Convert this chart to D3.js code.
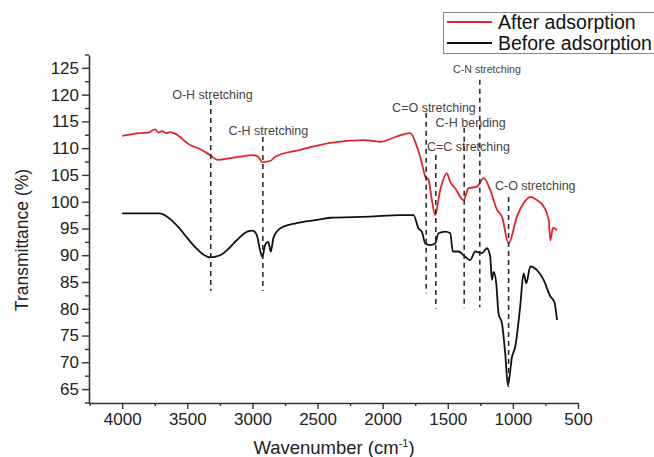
<!DOCTYPE html>
<html>
<head>
<meta charset="utf-8">
<script src="https://cdn.jsdelivr.net/npm/d3@7/dist/d3.min.js"></script>
<style>
  html, body { margin: 0; padding: 0; background: #fff; }
  svg { display: block; font-family: "Liberation Sans", Arial, sans-serif; }
</style>
</head>
<body>
<svg id="chart" width="654" height="457"></svg>
<script>
// ---- Data ----
const afterWavenumber = [4000, 3864, 3800, 3748, 3720, 3695, 3660, 3633, 3595, 3479, 3400, 3325, 3264, 3180, 3095, 3002, 2956, 2925, 2864, 2825, 2633, 2402, 2146, 2018, 1889, 1788, 1737, 1699, 1673, 1648, 1622, 1597, 1558, 1507, 1481, 1443, 1379, 1341, 1276, 1225, 1174, 1122, 1084, 1033, 969, 918, 866, 815, 764, 725, 712, 692, 661];
const afterTransmittance = [112.3, 112.8, 112.9, 113.5, 112.9, 113.2, 112.8, 113.0, 112.7, 110.6, 109.8, 108.7, 107.8, 108.1, 108.4, 108.7, 108.4, 107.4, 107.6, 108.4, 109.7, 111.0, 111.5, 111.2, 112.2, 112.8, 110.3, 107.2, 104.7, 104.1, 100.3, 97.5, 102.2, 105.3, 103.7, 102.5, 100.3, 102.5, 102.8, 104.4, 102.2, 98.5, 97.2, 92.2, 97.2, 99.7, 100.9, 100.3, 99.1, 96.6, 92.8, 95.1, 94.7];

const beforeWavenumber = [4000, 3710, 3660, 3620, 3560, 3500, 3440, 3380, 3326, 3249, 3180, 3121, 3040, 3000, 2967, 2942, 2924, 2903, 2878, 2859, 2839, 2788, 2660, 2506, 2404, 2100, 1866, 1763, 1725, 1699, 1673, 1635, 1597, 1571, 1520, 1481, 1461, 1418, 1379, 1328, 1289, 1238, 1199, 1174, 1161, 1148, 1128, 1110, 1084, 1059, 1038, 1007, 982, 944, 918, 897, 866, 815, 764, 712, 682, 661];
const beforeTransmittance = [97.8, 97.8, 97.3, 96.5, 95.0, 93.2, 91.5, 90.2, 89.6, 90.0, 91.3, 92.8, 94.4, 94.6, 93.8, 91.0, 89.7, 91.9, 92.5, 90.7, 93.2, 95.0, 96.0, 96.6, 97.0, 97.2, 97.5, 97.5, 95.0, 94.4, 92.2, 91.9, 92.2, 94.1, 94.4, 94.1, 90.7, 90.7, 90.0, 89.1, 90.7, 90.4, 91.3, 89.7, 85.4, 86.9, 84.8, 79.1, 77.3, 71.7, 65.7, 71.0, 72.9, 80.4, 86.6, 84.8, 87.9, 87.2, 85.4, 82.3, 81.3, 77.9];

const seriesNames = ["After adsorption", "Before adsorption"];
const seriesColors = ["#e0242b", "#111111"];

const xTickValues = [4000, 3500, 3000, 2500, 2000, 1500, 1000, 500];
const xMinorTicks = [4250, 3750, 3250, 2750, 2250, 1750, 1250, 750];
const yTickValues = [65, 70, 75, 80, 85, 90, 95, 100, 105, 110, 115, 120, 125];
const yMinorTicks = [62.5, 67.5, 72.5, 77.5, 82.5, 87.5, 92.5, 97.5, 102.5, 107.5, 112.5, 117.5, 122.5, 127.5];

// band annotations: label, band position (cm-1), dashed line top / bottom (% T), label centre (cm-1), label baseline (% T), font size
const bandLabels = ["O-H stretching", "C-H stretching", "C=O stretching", "C=C stretching", "C-H bending", "C-N stretching", "C-O stretching"];
const bandWavenumber = [3320, 2920, 1666, 1592, 1374, 1254, 1033];
const bandTop = [119.0, 112.1, 116.6, 108.7, 113.8, 122.8, 100.9];
const bandBottom = [83.3, 83.3, 82.9, 80.0, 80.1, 80.3, 65.4];
const labelCenter = [3307, 2878, 1606, 1341, 1324, 1199, 828];
const labelBaseline = [119.15, 112.5, 116.8, 109.5, 114.0, 124.0, 102.2];
const labelSize = [12.5, 12.5, 12.5, 12.5, 12.5, 10.6, 12.5];

// ---- Chart ----
const svg = d3.select("#chart");
const x = d3.scaleLinear().domain([4255, 500]).range([89, 578]);
const y = d3.scaleLinear().domain([62.4, 127.4]).range([403, 55]);
const axisColor = "#333";

// axes
const xAxis = svg.append("g").attr("transform", "translate(0,403)")
  .call(d3.axisBottom(x).tickValues(xTickValues).tickFormat(d3.format("d")).tickSize(6).tickSizeOuter(0).tickPadding(4));
const xMinor = svg.append("g").attr("transform", "translate(0,403)")
  .call(d3.axisBottom(x).tickValues(xMinorTicks).tickSize(3).tickSizeOuter(0).tickFormat(""));
const yAxis = svg.append("g").attr("transform", "translate(89,0)")
  .call(d3.axisLeft(y).tickValues(yTickValues).tickFormat(d3.format("d")).tickSize(7).tickSizeOuter(0).tickPadding(3));
const yMinor = svg.append("g").attr("transform", "translate(89,0)")
  .call(d3.axisLeft(y).tickValues(yMinorTicks).tickSize(4).tickSizeOuter(0).tickFormat(""));

[xAxis, xMinor, yAxis, yMinor].forEach(g => {
  g.selectAll("path.domain").attr("stroke", axisColor).attr("stroke-width", 1.6);
  g.selectAll(".tick line").attr("stroke", axisColor).attr("stroke-width", 1.4);
  g.selectAll(".tick text").attr("fill", "#222").style("font-size", "17px")
    .style("font-family", "'Liberation Sans', Arial, sans-serif");
});
xMinor.select("path.domain").remove();
yMinor.select("path.domain").remove();

// axis titles
svg.append("text")
  .attr("transform", "translate(28,240) rotate(-90)")
  .attr("text-anchor", "middle")
  .attr("fill", "#222")
  .style("font-size", "17.5px")
  .text("Transmittance (%)");

const xt = svg.append("text")
  .attr("x", 334).attr("y", 454)
  .attr("text-anchor", "middle")
  .attr("fill", "#222")
  .style("font-size", "18.5px");
xt.append("tspan").text("Wavenumber (cm");
xt.append("tspan").attr("dy", -7).style("font-size", "11px").text("-1");
xt.append("tspan").attr("dy", 7).text(")");

// series lines
const line = d3.line().x(d => x(d[0])).y(d => y(d[1])).curve(d3.curveMonotoneX);
const afterData = d3.zip(afterWavenumber, afterTransmittance);
const beforeData = d3.zip(beforeWavenumber, beforeTransmittance);

svg.append("path").datum(afterData)
  .attr("d", line).attr("fill", "none")
  .attr("stroke", seriesColors[0]).attr("stroke-width", 1.8).attr("stroke-linejoin", "round");
svg.append("path").datum(beforeData)
  .attr("d", line).attr("fill", "none")
  .attr("stroke", seriesColors[1]).attr("stroke-width", 1.8).attr("stroke-linejoin", "round");

// band annotations
bandLabels.forEach((lab, i) => {
  svg.append("line")
    .attr("x1", x(bandWavenumber[i])).attr("x2", x(bandWavenumber[i]))
    .attr("y1", y(bandTop[i])).attr("y2", y(bandBottom[i]))
    .attr("stroke", "#222").attr("stroke-width", 1.5)
    .attr("stroke-dasharray", "5,4");
});
bandLabels.forEach((lab, i) => {
  svg.append("text")
    .attr("x", x(labelCenter[i])).attr("y", y(labelBaseline[i]))
    .attr("text-anchor", "middle")
    .attr("fill", "#444")
    .style("font-size", labelSize[i] + "px")
    .text(lab);
});

// legend
const lg = svg.append("g");
lg.append("rect").attr("x", 443.5).attr("y", 12.5).attr("width", 220).attr("height", 41)
  .attr("fill", "#fff").attr("stroke", "#888").attr("stroke-width", 1);
seriesNames.forEach((name, i) => {
  const yy = 22 + i * 21;
  lg.append("line").attr("x1", 447).attr("x2", 492).attr("y1", yy).attr("y2", yy)
    .attr("stroke", seriesColors[i]).attr("stroke-width", 1.8);
  lg.append("text").attr("x", 498).attr("y", yy + 7)
    .attr("fill", "#111").style("font-size", "19.5px").text(name);
});
</script>
</body>
</html>
